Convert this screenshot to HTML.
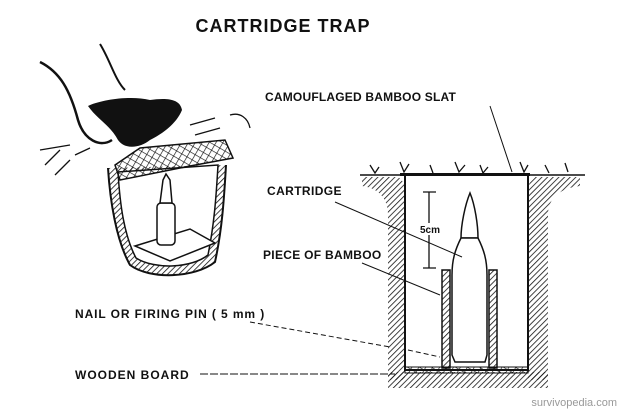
<!DOCTYPE html>
<html><head><style>
body{margin:0;background:#fff;}
svg{display:block;}
text{font-family:"Liberation Sans",sans-serif;font-weight:bold;fill:#111;}
</style></head><body>
<svg width="622" height="412" viewBox="0 0 622 412">
<defs>
<pattern id="h" width="4" height="4" patternUnits="userSpaceOnUse" patternTransform="rotate(45)">
<line x1="0" y1="0" x2="0" y2="4" stroke="#111" stroke-width="1.6"/></pattern>
<pattern id="g" width="6" height="6" patternUnits="userSpaceOnUse" patternTransform="rotate(30)">
<path d="M0 0H6M0 0V6" stroke="#111" stroke-width="1.3" fill="none"/></pattern>
</defs>
<text x="283" y="32" font-size="18" text-anchor="middle" letter-spacing="1">CARTRIDGE TRAP</text>

<!-- left drawing -->
<path d="M40 62 C60 72 70 90 78 120 C84 140 100 148 112 140" fill="none" stroke="#111" stroke-width="2.5"/>
<path d="M100 44 C110 60 115 80 125 90" fill="none" stroke="#111" stroke-width="2"/>
<path d="M88 106 C100 100 130 95 150 100 C165 98 180 98 182 110 C176 125 160 135 150 140 C140 148 125 150 118 140 C110 125 98 120 88 106Z" fill="#111"/>
<path d="M40 150 L70 145 M45 165 L60 150 M55 175 L70 160 M75 155 L90 148 M230 115 C240 112 248 118 250 128 M190 125 L215 118 M195 135 L220 128" stroke="#111" stroke-width="1.3" fill="none"/>
<path d="M108 168 C110 200 116 240 130 265 C150 280 195 278 215 262 C222 230 224 200 226 165" fill="url(#h)" stroke="#111" stroke-width="2"/>
<path d="M118 172 C120 205 124 235 136 258 C155 270 192 268 208 255 C214 225 216 200 218 165Z" fill="#fff" stroke="#111" stroke-width="1.5"/>
<path d="M115 165 L140 148 L225 140 L233 158 L190 166 L120 180Z" fill="url(#g)" stroke="#111" stroke-width="1.5"/>
<path d="M135 246 L190 229 L215 243 L170 261Z" fill="#fff" stroke="#111" stroke-width="1.5"/>
<rect x="157" y="203" width="18" height="42" rx="4" fill="#fff" stroke="#111" stroke-width="1.5"/>
<path d="M160 203 L163 180 L166 174 L170 180 L172 203Z" fill="#fff" stroke="#111" stroke-width="1.5"/>

<!-- right pit -->
<line x1="360" y1="175" x2="585" y2="175" stroke="#111" stroke-width="1.5"/>
<path d="M362 177 L398 177 C403 180 405 185 405 192 L405 380 L388 380 L388 215 C388 198 378 188 362 186Z" fill="url(#h)"/>
<path d="M580 177 L535 177 C530 180 528 185 528 192 L528 380 L548 380 L548 215 C548 198 560 188 580 186Z" fill="url(#h)"/>
<rect x="388" y="372" width="160" height="16" fill="url(#h)"/>
<path d="M405 176 L405 370 L528 370 L528 176" fill="none" stroke="#111" stroke-width="2"/>
<rect x="405" y="367" width="123" height="6" fill="url(#g)" stroke="#111" stroke-width="1"/>
<rect x="400" y="173" width="130" height="3" fill="#111"/>
<path d="M370 165 l5 8 l4 -6 M400 162 l4 10 l5 -8 M430 165 l3 8 M455 162 l4 10 l6 -7 M480 165 l3 8 l5 -6 M520 162 l4 10 l4 -7 M545 165 l4 8 M565 163 l3 9" stroke="#111" stroke-width="1.3" fill="none"/>
<rect x="442" y="270" width="8" height="98" fill="url(#h)" stroke="#111" stroke-width="1.5"/>
<rect x="489" y="270" width="8" height="98" fill="url(#h)" stroke="#111" stroke-width="1.5"/>
<path d="M470 193 C465 205 461 225 461 238 L478 238 C478 225 475 205 470 193Z" fill="#fff" stroke="#111" stroke-width="1.5"/>
<path d="M461 238 C455 250 452 260 452 275 L452 355 L455 362 L485 362 L487 355 L487 275 C487 260 484 250 478 238Z" fill="#fff" stroke="#111" stroke-width="1.5"/>
<path d="M429 192 V268 M423 192 H436 M423 268 H436" stroke="#111" stroke-width="1.3"/>
<rect x="419" y="223" width="22" height="12" fill="#fff"/>
<text x="420" y="233" font-size="10">5cm</text>

<!-- labels -->
<text x="265" y="101" font-size="12" letter-spacing="0.2">CAMOUFLAGED BAMBOO SLAT</text>
<line x1="490" y1="106" x2="512" y2="172" stroke="#111" stroke-width="1"/>
<text x="267" y="195" font-size="12" letter-spacing="0.4">CARTRIDGE</text>
<line x1="335" y1="202" x2="462" y2="257" stroke="#111" stroke-width="1"/>
<text x="263" y="259" font-size="12" letter-spacing="0.3">PIECE OF BAMBOO</text>
<line x1="362" y1="263" x2="440" y2="295" stroke="#111" stroke-width="1"/>
<text x="75" y="318" font-size="12" letter-spacing="0.9">NAIL OR FIRING PIN ( 5 mm )</text>
<path d="M250 322 L390 347 M408 350 L440 357" stroke="#111" stroke-width="1" stroke-dasharray="5 3"/>
<text x="75" y="379" font-size="12" letter-spacing="1">WOODEN BOARD</text>
<path d="M200 374 H395" stroke="#111" stroke-width="1" stroke-dasharray="8 2"/>
<text x="617" y="406" font-size="11" text-anchor="end" style="font-weight:normal;fill:#999">survivopedia.com</text>
</svg>
</body></html>
